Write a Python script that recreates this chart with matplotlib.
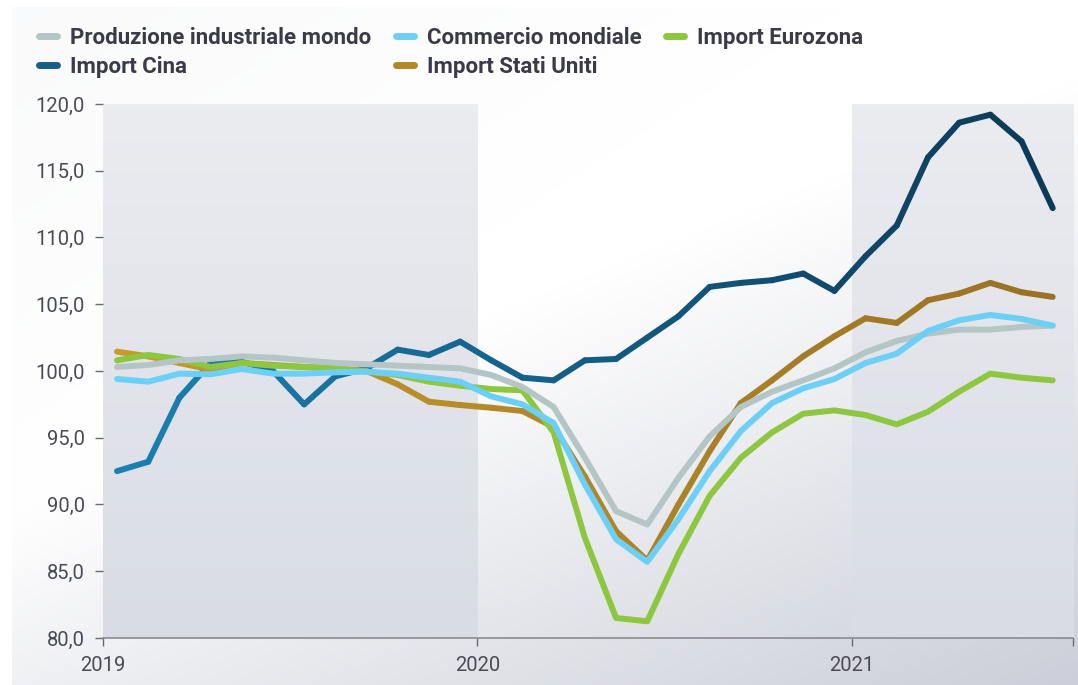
import numpy as np
import matplotlib.pyplot as plt
from matplotlib.collections import LineCollection
from matplotlib.colors import to_rgb
from matplotlib.lines import Line2D

# mesi da gen 2019 a lug 2021
months = np.arange(31)
year_ticks = [0, 12, 24]
year_labels = ['2019', '2020', '2021']
y_ticks = [80, 85, 90, 95, 100, 105, 110, 115, 120]

prod_mondo = [100.3, 100.45, 100.8, 100.9, 101.1, 101.0, 100.8, 100.6, 100.5, 100.4, 100.3, 100.2,
              99.7, 98.8, 97.3, 93.5, 89.5, 88.5, 92.0, 95.1, 97.3, 98.45, 99.3, 100.2,
              101.4, 102.25, 102.8, 103.1, 103.1, 103.3, 103.4]
commercio = [99.4, 99.2, 99.8, 99.75, 100.15, 99.8, 99.8, 99.9, 99.95, 99.8, 99.5, 99.2,
             98.1, 97.5, 96.1, 91.5, 87.4, 85.7, 88.9, 92.5, 95.5, 97.6, 98.7, 99.4,
             100.6, 101.3, 103.0, 103.8, 104.2, 103.9, 103.4]
import_euro = [100.8, 101.2, 100.9, 100.3, 100.6, 100.4, 100.3, 100.2, 99.95, 99.7, 99.2, 98.9,
               98.65, 98.55, 95.4, 87.5, 81.5, 81.25, 86.3, 90.65, 93.5, 95.4, 96.8, 97.05,
               96.7, 96.0, 96.95, 98.45, 99.8, 99.5, 99.3]
import_cina = [92.5, 93.2, 98.0, 100.6, 100.7, 100.0, 97.5, 99.6, 100.2, 101.6, 101.2, 102.2,
               100.8, 99.5, 99.3, 100.8, 100.9, 102.5, 104.1, 106.3, 106.6, 106.8, 107.3, 106.0,
               108.6, 110.9, 116.0, 118.6, 119.2, 117.2, 112.2]
import_usa = [101.45, 101.1, 100.6, 100.1, 100.6, 100.45, 100.3, 100.2, 100.0, 99.0, 97.7, 97.45,
              97.25, 97.0, 95.8, 92.1, 88.0, 85.8, 90.0, 94.0, 97.6, 99.3, 101.1, 102.6,
              103.95, 103.6, 105.3, 105.8, 106.6, 105.9, 105.55]

W, H = 1078, 685
LW = 4.3
x = months + 0.45


def gradient_line(ax, xs, ys, c0, c1, z):
    pts = np.column_stack([xs, ys]).reshape(-1, 1, 2)
    segs = np.concatenate([pts[:-1], pts[1:]], axis=1)
    t = np.linspace(0, 1, len(segs))[:, None]
    cols = (1 - t) * np.array(to_rgb(c0)) + t * np.array(to_rgb(c1))
    lc = LineCollection(segs, colors=cols, linewidths=LW, capstyle='round',
                        joinstyle='round', zorder=z)
    ax.add_collection(lc)


plt.rcParams['font.family'] = ['Roboto', 'DejaVu Sans']

fig = plt.figure(figsize=(W / 100, H / 100), dpi=100)
fig.patch.set_facecolor('white')

# sfondo sfumato
bg = fig.add_axes([12 / W, 0, 1 - 12 / W, 1 - 7 / H], zorder=-10)
yy, xx = np.mgrid[0:1:200j, 0:1:300j]
d = np.clip(0.95 * yy + 0.6 * xx - 0.7, 0, 1) + np.clip(0.35 - 0.45 * xx - 0.45 * yy, 0, 1) * 0.25
white = np.array([1.0, 1.0, 1.0])
grey = np.array(to_rgb('#c3c6d2'))
img = white * (1 - d[..., None]) + grey * d[..., None]
bg.imshow(img, aspect='auto', extent=(0, 1, 0, 1), origin='upper')
bg.axis('off')

ax = fig.add_axes([103 / W, 1 - 638 / H, 970 / W, 534 / H])
ax.patch.set_alpha(0)

# fasce 2019 e 2021
band = np.linspace(0, 1, 100)[:, None]
band_img = (1 - band[..., None]) * np.array(to_rgb('#ebecf0')) + band[..., None] * np.array(to_rgb('#dadce5'))
ax.imshow(band_img, aspect='auto', extent=(0, 12, 80, 120), origin='upper', zorder=0)
ax.imshow(band_img, aspect='auto', extent=(24, 31.1, 80, 120), origin='upper', zorder=0)
ax.set_xlim(0, 31.1)
ax.set_ylim(80, 120)

gradient_line(ax, x, import_cina, '#1a80b0', '#0d3a58', 2)
gradient_line(ax, x, import_usa, '#c49b2c', '#9a7224', 3)
ax.plot(x, import_euro, color='#8dc63f', lw=LW, solid_capstyle='round', solid_joinstyle='round', zorder=4)
ax.plot(x, prod_mondo, color='#b3c5c4', lw=LW, solid_capstyle='round', solid_joinstyle='round', zorder=5)
ax.plot(x, commercio, color='#6cd0f6', lw=LW, solid_capstyle='round', solid_joinstyle='round', zorder=6)

for s in ['top', 'right', 'left']:
    ax.spines[s].set_visible(False)
ax.spines['bottom'].set_color('#8a8a92')
ax.spines['bottom'].set_linewidth(1.2)
ax.spines['bottom'].set_zorder(7)

ax.set_yticks(y_ticks)
ax.set_yticklabels([f'{v:.1f}'.replace('.', ',') for v in y_ticks])
ax.set_xticks(year_ticks + [31.1])
ax.set_xticklabels(year_labels + [''])
ax.tick_params(axis='y', length=6, width=1, color='#6a6a72', pad=7, labelsize=14.5, labelcolor='#4a4a56')
ax.tick_params(axis='x', length=6, width=1, color='#6a6a72', pad=7, labelsize=14.5, labelcolor='#4a4a56')

handles = [
    Line2D([], [], color='#b3c5c4', lw=5, solid_capstyle='round'),
    Line2D([], [], color='#155f88', lw=5, solid_capstyle='round'),
    Line2D([], [], color='#6cd0f6', lw=5, solid_capstyle='round'),
    Line2D([], [], color='#b08a28', lw=5, solid_capstyle='round'),
    Line2D([], [], color='#8dc63f', lw=5, solid_capstyle='round'),
]
labels = ['Produzione industriale mondo', 'Import Cina', 'Commercio mondiale',
          'Import Stati Uniti', 'Import Eurozona']
leg = fig.legend(handles, labels, ncol=3, loc='upper left', bbox_to_anchor=(39 / W, 1 - 27 / H),
                 frameon=False, handlelength=0.8, handletextpad=0.6, columnspacing=1.1,
                 labelspacing=0.32, borderaxespad=0, borderpad=0,
                 prop={'size': 16, 'weight': 'bold'})
for t in leg.get_texts():
    t.set_color('#3a3a48')

fig.savefig('out.png', dpi=100)
